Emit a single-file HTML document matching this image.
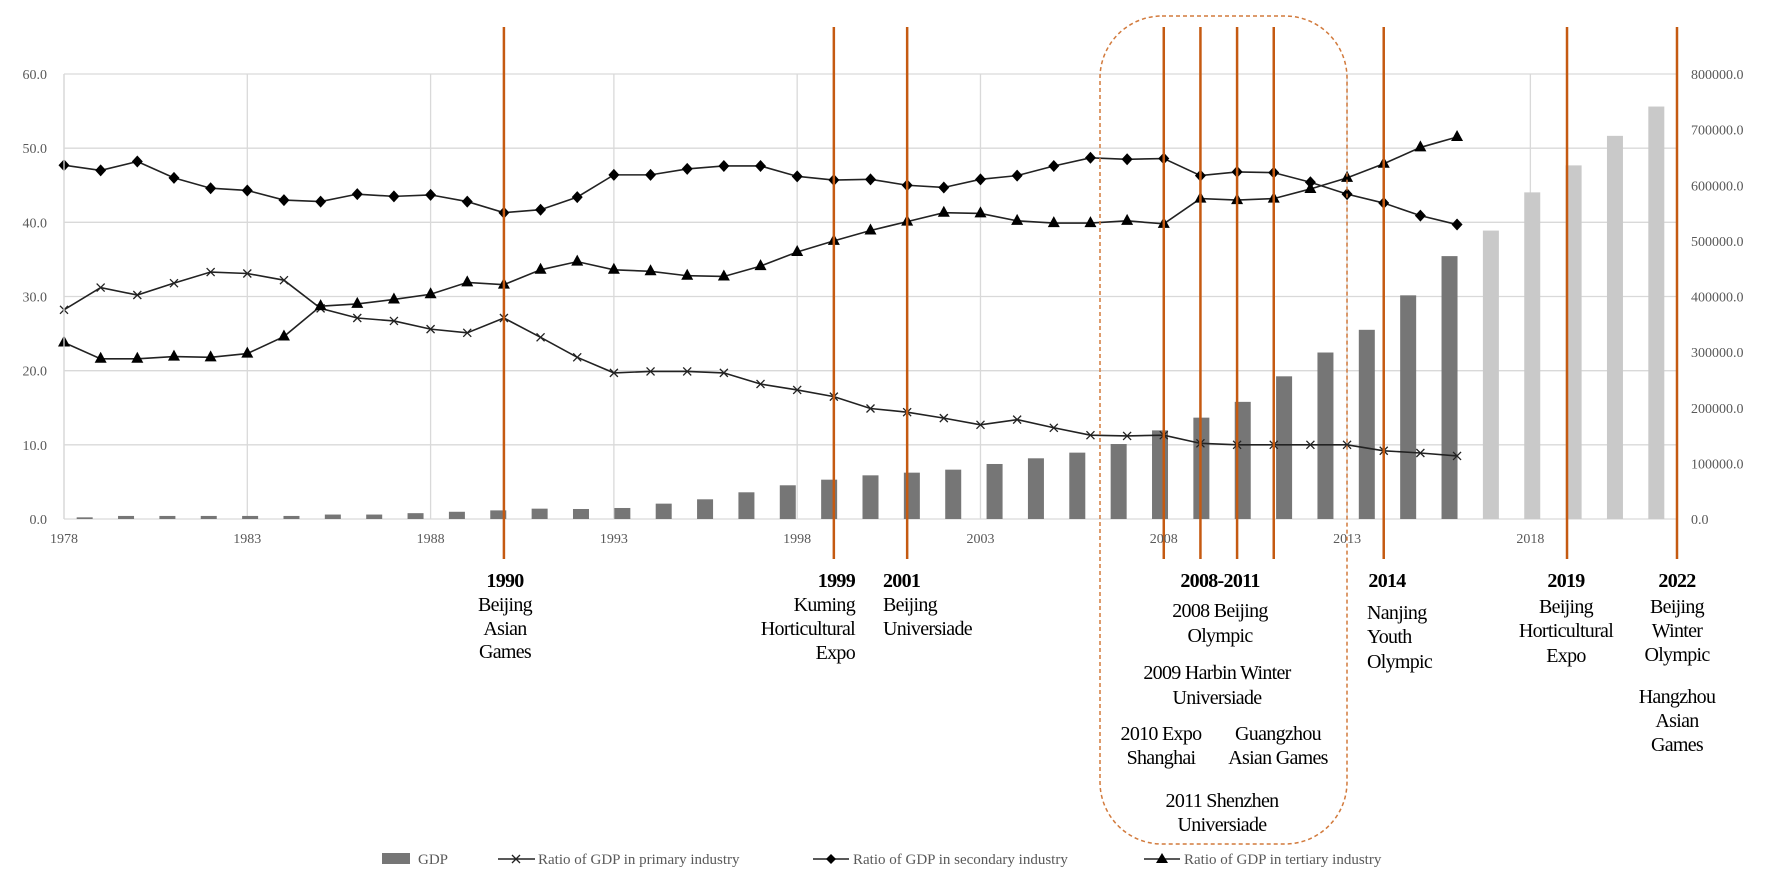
<!DOCTYPE html>
<html><head><meta charset="utf-8"><style>
html,body{margin:0;padding:0;background:#fff;}
svg{display:block;font-family:"Liberation Serif",serif;}
.ev text{letter-spacing:-0.7px;}
</style></head><body>
<svg id="chart" width="1772" height="890" viewBox="0 0 1772 890">
<g id="grid"></g>
<g id="bars"></g>
<g id="lines"></g>
<g id="events"></g>
<g id="axes"></g>
<rect x="1100" y="16" width="247" height="828" rx="62" ry="62" fill="none" stroke="#d27a3c" stroke-width="1.5" stroke-dasharray="4,3"/>
<g class="ev" font-size="20" fill="#000">
<g text-anchor="middle"><text x="505" y="587" font-weight="bold">1990</text><text x="505" y="611">Beijing</text><text x="505" y="635">Asian</text><text x="505" y="658">Games</text></g>
<g text-anchor="end"><text x="855" y="587" font-weight="bold">1999</text><text x="855" y="611">Kuming</text><text x="855" y="635">Horticultural</text><text x="855" y="659">Expo</text></g>
<g text-anchor="start"><text x="883" y="587" font-weight="bold">2001</text><text x="883" y="611">Beijing</text><text x="883" y="635">Universiade</text></g>
<g text-anchor="middle"><text x="1220" y="587" font-weight="bold">2008-2011</text><text x="1220" y="617">2008 Beijing</text><text x="1220" y="642">Olympic</text><text x="1217" y="679">2009 Harbin  Winter</text><text x="1217" y="704">Universiade</text><text x="1161" y="740">2010 Expo</text><text x="1161" y="764">Shanghai</text><text x="1278" y="740">Guangzhou</text><text x="1278" y="764">Asian  Games</text><text x="1222" y="807">2011 Shenzhen</text><text x="1222" y="831">Universiade</text></g>
<g><text x="1387" y="587" font-weight="bold" text-anchor="middle">2014</text><text x="1367" y="619">Nanjing</text><text x="1367" y="643">Youth</text><text x="1367" y="668">Olympic</text></g>
<g text-anchor="middle"><text x="1566" y="587" font-weight="bold">2019</text><text x="1566" y="613">Beijing</text><text x="1566" y="637">Horticultural</text><text x="1566" y="662">Expo</text></g>
<g text-anchor="middle"><text x="1677" y="587" font-weight="bold">2022</text><text x="1677" y="613">Beijing</text><text x="1677" y="637">Winter</text><text x="1677" y="661">Olympic</text><text x="1677" y="703">Hangzhou</text><text x="1677" y="727">Asian</text><text x="1677" y="751">Games</text></g>
</g>
<g id="legend" font-size="15" fill="#595959">
<g><rect x="382" y="853" width="28" height="11" fill="#767676"/><text x="418" y="864">GDP</text></g>
<g><line x1="498" y1="859" x2="535" y2="859" stroke="#222" stroke-width="1.5"/><path d="M512,855 L520,863 M520,855 L512,863" stroke="#222" stroke-width="1.3"/><text x="538" y="864">Ratio of GDP in primary industry</text></g>
<g><line x1="813" y1="859" x2="849" y2="859" stroke="#222" stroke-width="1.5"/><path d="M831,854 L836,859 L831,864 L826,859Z" fill="#000"/><text x="853" y="864">Ratio of GDP in secondary industry</text></g>
<g><line x1="1144" y1="859" x2="1180" y2="859" stroke="#222" stroke-width="1.5"/><path d="M1162,853 L1168,863 L1156,863Z" fill="#000"/><text x="1184" y="864">Ratio of GDP in tertiary industry</text></g>
</g>
</svg>
<script>
const lineYears = [];
for (let y = 1978; y <= 2022; y++) lineYears.push(y);
const xTickLabels = ["1978","1983","1988","1993","1998","2003","2008","2013","2018"];
const leftTicks = [0,10,20,30,40,50,60];
const rightTicks = [0,100000,200000,300000,400000,500000,600000,700000,800000];
const primaryRatio = [28.2,31.2,30.2,31.8,33.3,33.1,32.2,28.4,27.1,26.7,25.6,25.1,27.1,24.5,21.8,19.7,19.9,19.9,19.7,18.2,17.4,16.5,14.9,14.4,13.6,12.7,13.4,12.3,11.3,11.2,11.3,10.2,10.0,10.0,10.0,10.0,9.2,8.9,8.5];
const secondaryRatio = [47.7,47.0,48.2,46.0,44.6,44.3,43.0,42.8,43.8,43.5,43.7,42.8,41.3,41.7,43.4,46.4,46.4,47.2,47.6,47.6,46.2,45.7,45.8,45.0,44.7,45.8,46.3,47.6,48.7,48.5,48.6,46.3,46.8,46.7,45.4,43.8,42.6,40.9,39.7];
const tertiaryRatio = [23.8,21.6,21.6,21.9,21.8,22.3,24.6,28.7,29.0,29.6,30.3,31.9,31.6,33.6,34.7,33.6,33.4,32.8,32.7,34.1,36.0,37.5,38.9,40.1,41.3,41.2,40.2,39.9,39.9,40.2,39.8,43.2,43.0,43.2,44.5,46.0,47.9,50.1,51.5];
const gdpValues = [3000,5500,5500,5500,5500,5500,8000,8000,10500,13000,15500,18600,18000,19800,27600,35400,48000,60600,70700,78500,83300,88700,98900,109100,119300,134800,159300,182200,210600,256500,299300,340100,402100,472600,518500,587200,635700,688800,741500];
const gdpProjected = [false,false,false,false,false,false,false,false,false,false,false,false,false,false,false,false,false,false,false,false,false,false,false,false,false,false,false,false,false,false,false,false,false,false,true,true,true,true,true];
const eventYears = [1990,1999,2001,2008,2009,2010,2011,2014,2019,2022];

const NS = "http://www.w3.org/2000/svg";
const X0 = 64, X1 = 1677, YT = 74, YB = 519;
const xLine = yr => X0 + (yr - 1978) * (X1 - X0) / (lineYears.length - 1);
const yLeft = v => YB - v * (YB - YT) / 60;
const yRight = v => YB - v * (YB - YT) / 800000;
const barStep = (X1 - X0) / gdpValues.length;
const xBar = i => X0 + (i + 0.5) * barStep;
function mk(tag, attrs, parent) {
  const e = document.createElementNS(NS, tag);
  for (const k in attrs) e.setAttribute(k, attrs[k]);
  parent.appendChild(e);
  return e;
}
const grid = document.getElementById('grid');
leftTicks.forEach(t => {
  const l = mk('line', {x1: X0, x2: X1, y1: yLeft(t), y2: yLeft(t), stroke: '#d9d9d9', 'stroke-width': 1.3}, grid);
  
  
});
xTickLabels.forEach(lab => {
  const x = xLine(+lab);
  const l = mk('line', {x1: x, x2: x, y1: YT, y2: YB, stroke: '#d9d9d9', 'stroke-width': 1.3}, grid);
  
  
});
const bars = document.getElementById('bars');
gdpValues.forEach((v, i) => {
  const r = mk('rect', {x: xBar(i) - 8, y: yRight(v), width: 16, height: YB - yRight(v), fill: gdpProjected[i] ? '#c9c9c9' : '#767676'}, bars);
  
  
});
const lines = document.getElementById('lines');
function series(vals, name, marker) {
  const g = mk('g', {}, lines);
  
  
  const pts = vals.map((v, i) => [xLine(1978 + i), yLeft(v)]);
  mk('polyline', {points: pts.map(p => p.join(',')).join(' '), fill: 'none', stroke: '#222', 'stroke-width': 1.6}, g);
  pts.forEach(([x, y]) => {
    let m;
    if (marker === 'x') m = mk('path', {d: `M${x-4},${y-4}L${x+4},${y+4}M${x+4},${y-4}L${x-4},${y+4}`, stroke: '#222', 'stroke-width': 1.3}, g);
    else if (marker === 'd') m = mk('path', {d: `M${x},${y-6}L${x+5.5},${y}L${x},${y+6}L${x-5.5},${y}Z`, fill: '#000'}, g);
    else m = mk('path', {d: `M${x},${y-7}L${x+6},${y+4}L${x-6},${y+4}Z`, fill: '#000'}, g);
    
    
  });
}
series(primaryRatio, 'primary-industry-line', 'x');
series(secondaryRatio, 'secondary-industry-line', 'd');
series(tertiaryRatio, 'tertiary-industry-line', 't');
const ev = document.getElementById('events');
eventYears.forEach(yr => {
  const x = xLine(yr);
  const l = mk('line', {x1: x, x2: x, y1: 27, y2: 559, stroke: '#c55a11', 'stroke-width': 2.5}, ev);
  
  
});
const axes = document.getElementById('axes');
mk('line', {x1: X0, x2: X0, y1: YT, y2: YB, stroke: '#d9d9d9', 'stroke-width': 1.3}, axes);
leftTicks.forEach(t => {
  const tx = mk('text', {x: 47, y: yLeft(t) + 5, 'text-anchor': 'end', 'font-size': 14, fill: '#595959'}, axes);
  tx.textContent = t.toFixed(1);
  
  
});
rightTicks.forEach(t => {
  const tx = mk('text', {x: 1691, y: yRight(t) + 5, 'text-anchor': 'start', 'font-size': 14, fill: '#595959'}, axes);
  tx.textContent = t.toFixed(1);
  
  
});
xTickLabels.forEach(lab => {
  const tx = mk('text', {x: xLine(+lab), y: 543, 'text-anchor': 'middle', 'font-size': 14, fill: '#595959'}, axes);
  tx.textContent = lab;
  
  
});
</script>
</body></html>
